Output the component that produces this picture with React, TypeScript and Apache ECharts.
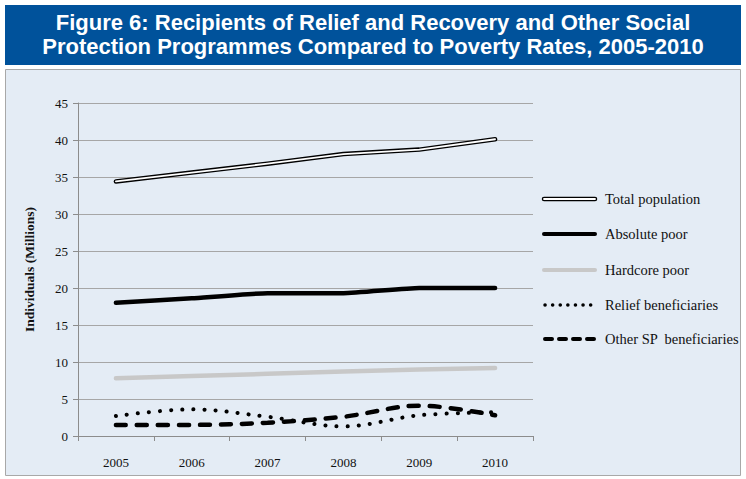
import React, { useEffect, useRef } from "react";
import * as echarts from "echarts";

const years = ["2005", "2006", "2007", "2008", "2009", "2010"];
const totalPopulation = [34.4, 35.6, 36.8, 38.1, 38.7, 40.1];
const absolutePoor = [18.0, 18.6, 19.3, 19.3, 20.0, 20.0];
const hardcorePoor = [7.8, 8.1, 8.4, 8.7, 9.0, 9.2];
const reliefBeneficiaries = [2.7, 3.6, 2.6, 1.3, 2.8, 3.2];
const otherSPBeneficiaries = [1.5, 1.5, 1.8, 2.6, 4.1, 2.8];
const legendNames = [
  "Total population",
  "Absolute poor",
  "Hardcore poor",
  "Relief beneficiaries",
  "Other SP  beneficiaries",
];
const titleLines = [
  "Figure 6: Recipients of Relief and Recovery and Other Social",
  "Protection Programmes Compared to Poverty Rates, 2005-2010",
];

const SERIF = "'Liberation Serif', 'DejaVu Serif', serif";
const SANS = "'Liberation Sans', Arial, sans-serif";

export default function App() {
  const ref = useRef<HTMLDivElement>(null);
  useEffect(() => {
    if (!ref.current) return;
    const chart = echarts.init(ref.current, null, { renderer: "svg" });
    const legendX1 = 544;
    const legendX2 = 595;
    const legendY = [199, 234, 270, 305, 339];
    const legendGraphics: any[] = [];
    legendY.forEach((y, i) => {
      if (i === 0) {
        legendGraphics.push({ type: "line", shape: { x1: legendX1, y1: y, x2: legendX2, y2: y }, style: { stroke: "#000", lineWidth: 4.5, lineCap: "round" } });
        legendGraphics.push({ type: "line", shape: { x1: legendX1, y1: y, x2: legendX2, y2: y }, style: { stroke: "#fff", lineWidth: 1.8, lineCap: "round" } });
      } else if (i === 1) {
        legendGraphics.push({ type: "line", shape: { x1: legendX1, y1: y, x2: legendX2, y2: y }, style: { stroke: "#000", lineWidth: 4, lineCap: "round" } });
      } else if (i === 2) {
        legendGraphics.push({ type: "line", shape: { x1: legendX1, y1: y, x2: legendX2, y2: y }, style: { stroke: "#C8C8C8", lineWidth: 4, lineCap: "round" } });
      } else if (i === 3) {
        legendGraphics.push({ type: "line", shape: { x1: legendX1 + 1, y1: y, x2: legendX2 - 4, y2: y }, style: { stroke: "#000", lineWidth: 3.5, lineCap: "round", lineDash: [0.1, 7.5] } });
      } else {
        legendGraphics.push({ type: "line", shape: { x1: legendX1 + 1, y1: y, x2: legendX2, y2: y }, style: { stroke: "#000", lineWidth: 4, lineCap: "round", lineDash: [7, 7] } });
      }
      legendGraphics.push({
        type: "text",
        x: 605,
        y,
        style: { text: legendNames[i], fontFamily: SERIF, fontSize: 14.5, fill: "#111", textVerticalAlign: "middle", verticalAlign: "middle" },
      });
    });

    chart.setOption({
      animation: false,
      backgroundColor: "#ffffff",
      graphic: [
        { type: "rect", z: -10, shape: { x: 5.5, y: 69.5, width: 735, height: 406 }, style: { fill: "#E4ECF5", stroke: "#A8A8A8", lineWidth: 1 } },
        { type: "rect", z: -10, shape: { x: 5, y: 5, width: 736, height: 60 }, style: { fill: "#00529B" } },
        ...titleLines.map((t, i) => ({
          type: "text",
          x: 373,
          y: 22.5 + i * 24,
          style: { text: t, fontFamily: SANS, fontWeight: "bold", fontSize: 22, fill: "#fff", textAlign: "center", textVerticalAlign: "middle", verticalAlign: "middle", align: "center" },
        })),
        ...legendGraphics,
      ],
      grid: { left: 78, right: 213, top: 103, bottom: 43, containLabel: false },
      xAxis: {
        type: "category",
        data: years,
        boundaryGap: true,
        axisLine: { lineStyle: { color: "#8C8C8C", width: 1 } },
        axisTick: { show: true, length: 5, lineStyle: { color: "#8C8C8C" } },
        axisLabel: { color: "#111", fontFamily: SERIF, fontSize: 13, margin: 20 },
        splitLine: { show: false },
      },
      yAxis: {
        type: "value",
        min: 0,
        max: 45,
        interval: 5,
        name: "Individuals (Millions)",
        nameLocation: "middle",
        nameGap: 42,
        nameTextStyle: { fontFamily: SERIF, fontWeight: "bold", fontSize: 13.5, color: "#111" },
        axisLine: { show: true, lineStyle: { color: "#8C8C8C", width: 1 } },
        axisTick: { show: true, length: 5, lineStyle: { color: "#8C8C8C" } },
        axisLabel: { color: "#111", fontFamily: SERIF, fontSize: 13, margin: 10 },
        splitLine: { show: true, lineStyle: { color: "#A6A6A6", width: 1 } },
      },
      series: [
        { name: "Total population outline", type: "line", data: totalPopulation, smooth: false, symbol: "none", lineStyle: { color: "#000", width: 4.5, cap: "round", join: "round" }, z: 3 },
        { name: "Total population", type: "line", data: totalPopulation, smooth: false, symbol: "none", lineStyle: { color: "#fff", width: 1.8, cap: "round", join: "round" }, z: 4 },
        { name: "Absolute poor", type: "line", data: absolutePoor, smooth: 0.15, symbol: "none", lineStyle: { color: "#000", width: 4.5, cap: "round", join: "round" } },
        { name: "Hardcore poor", type: "line", data: hardcorePoor, smooth: false, symbol: "none", lineStyle: { color: "#C8C8C8", width: 4.5, cap: "round", join: "round" } },
        { name: "Relief beneficiaries", type: "line", data: reliefBeneficiaries, smooth: 0.35, symbol: "none", lineStyle: { color: "#000", width: 4, cap: "round", type: [0.1, 11] } },
        { name: "Other SP beneficiaries", type: "line", data: otherSPBeneficiaries, smooth: 0.35, symbol: "none", lineStyle: { color: "#000", width: 4.5, cap: "round", type: [10, 11] } },
      ],
    });
    return () => chart.dispose();
  }, []);
  return <div ref={ref} style={{ position: "fixed", left: 0, top: 0, width: 746, height: 479 }} />;
}
